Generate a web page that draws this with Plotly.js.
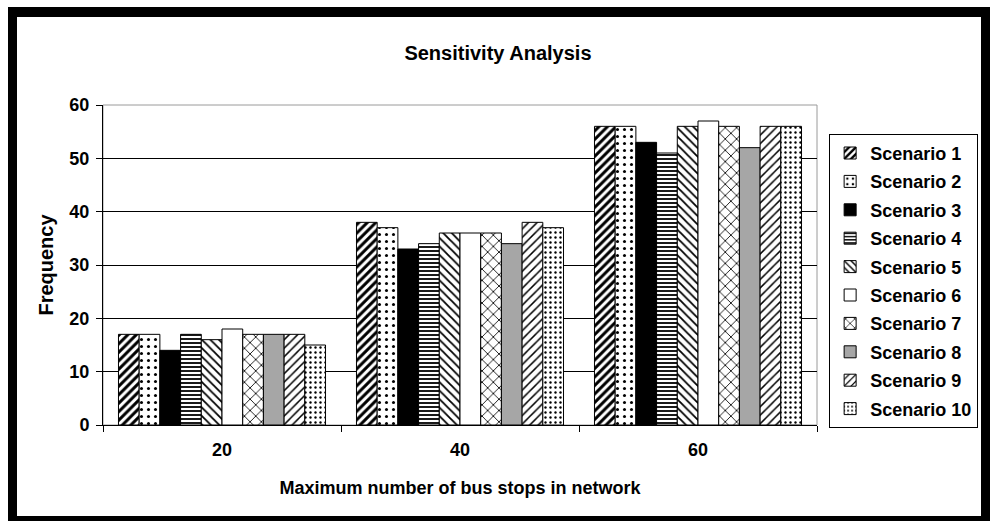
<!DOCTYPE html>
<html>
<head>
<meta charset="utf-8">
<script src="https://cdn.plot.ly/plotly-3.0.1.min.js"></script>
<style>
  html, body { margin: 0; padding: 0; background: #ffffff; }
  #wrap { position: relative; width: 990px; height: 521px; overflow: hidden; }
  #chart { position: absolute; left: 0; top: 0; width: 990px; height: 521px; }
  #frame { position: absolute; left: 8px; top: 7px; width: 982px; height: 514px; box-sizing: border-box;
           border-style: solid; border-color: #000; border-width: 10px 9px 5px 9px; pointer-events: none; }
</style>
</head>
<body>
<div id="wrap">
  <div id="chart"></div>
  <div id="frame"></div>
</div>
<script>
const categories = ["20", "40", "60"];
const seriesNames = ["Scenario 1", "Scenario 2", "Scenario 3", "Scenario 4", "Scenario 5",
                     "Scenario 6", "Scenario 7", "Scenario 8", "Scenario 9", "Scenario 10"];
const scenario1 = [17, 38, 56];
const scenario2 = [17, 37, 56];
const scenario3 = [14, 33, 53];
const scenario4 = [17, 34, 51];
const scenario5 = [16, 36, 56];
const scenario6 = [18, 36, 57];
const scenario7 = [17, 36, 56];
const scenario8 = [17, 34, 52];
const scenario9 = [17, 38, 56];
const scenario10 = [15, 37, 56];
const seriesValues = [scenario1, scenario2, scenario3, scenario4, scenario5,
                      scenario6, scenario7, scenario8, scenario9, scenario10];

const styles = [
  {color: "#ffffff", pattern: {shape: "/", fgcolor: "#000", bgcolor: "#fff", size: 6, solidity: 0.5}},
  {color: "#ffffff", pattern: {shape: ".", fgcolor: "#000", bgcolor: "#fff", size: 7, solidity: 0.15}},
  {color: "#000000", pattern: {shape: ""}},
  {color: "#ffffff", pattern: {shape: "-", fgcolor: "#000", bgcolor: "#fff", size: 4, solidity: 0.45}},
  {color: "#ffffff", pattern: {shape: "\\", fgcolor: "#000", bgcolor: "#fff", size: 6, solidity: 0.3}},
  {color: "#ffffff", pattern: {shape: ""}},
  {color: "#ffffff", pattern: {shape: "x", fgcolor: "#000", bgcolor: "#fff", size: 8, solidity: 0.2}},
  {color: "#a6a6a6", pattern: {shape: ""}},
  {color: "#ffffff", pattern: {shape: "/", fgcolor: "#000", bgcolor: "#fff", size: 6, solidity: 0.25}},
  {color: "#ffffff", pattern: {shape: ".", fgcolor: "#000", bgcolor: "#fff", size: 5, solidity: 0.18}}
];

const FONT = "Liberation Sans, Arial, sans-serif";

const traces = seriesNames.map((name, i) => ({
  type: "bar",
  name: name,
  x: categories,
  y: seriesValues[i],
  legendgroup: "g" + i,
  marker: {
    color: styles[i].color,
    pattern: styles[i].pattern,
    line: {color: "#000000", width: 1}
  }
}));

const layout = {
  width: 990,
  height: 521,
  margin: {l: 103, r: 164, t: 105, b: 96},
  paper_bgcolor: "#ffffff",
  plot_bgcolor: "#ffffff",
  barmode: "group",
  bargap: 0.13,
  bargroupgap: 0,
  showlegend: true,
  font: {family: FONT, color: "#000"},
  title: {
    text: "<b>Sensitivity Analysis</b>",
    font: {family: FONT, size: 20, color: "#000"},
    x: 0.503, xref: "container", xanchor: "center",
    y: 46, yref: "container", yanchor: "middle"
  },
  xaxis: {
    type: "category",
    tickson: "boundaries",
    ticks: "outside",
    ticklen: 6,
    tickcolor: "#000",
    showline: true,
    linecolor: "#000",
    linewidth: 1,
    showgrid: false,
    ticklabelstandoff: 8,
    tickfont: {family: FONT, size: 18, color: "#000", weight: "bold"},
    title: {
      text: "<b>Maximum number of bus stops in network</b>",
      font: {family: FONT, size: 18, color: "#000"},
      standoff: 22
    }
  },
  yaxis: {
    range: [0, 60],
    dtick: 10,
    ticks: "outside",
    ticklen: 6,
    tickcolor: "#000",
    showline: true,
    linecolor: "#000",
    linewidth: 1,
    showgrid: true,
    gridcolor: "#000",
    gridwidth: 1,
    zeroline: false,
    ticklabelstandoff: 3,
    tickfont: {family: FONT, size: 18, color: "#000", weight: "bold"},
    title: {
      text: "<b>Frequency</b>",
      font: {family: FONT, size: 20, color: "#000"},
      standoff: 10
    }
  },
  legend: {
    x: 1.017, xanchor: "left",
    y: 0.91, yanchor: "top",
    bgcolor: "#ffffff",
    bordercolor: "#000",
    borderwidth: 1,
    traceorder: "grouped",
    tracegroupgap: 2,
    font: {family: FONT, size: 18, color: "#000", weight: "bold"},
    itemwidth: 30
  },
  shapes: [
    {type: "rect", xref: "paper", yref: "paper", x0: 0, x1: 1, y0: 0, y1: 1,
     line: {color: "#9a9a9a", width: 1}, layer: "below"}
  ]
};

Plotly.newPlot("chart", traces, layout, {staticPlot: true, displayModeBar: false});
</script>
</body>
</html>
